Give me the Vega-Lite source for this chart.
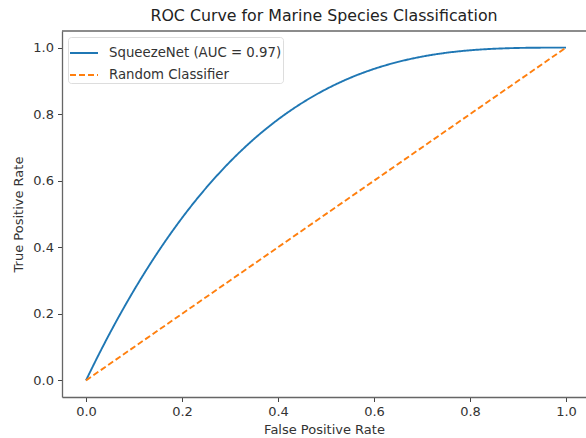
{
  "$schema": "https://vega.github.io/schema/vega-lite/v6.json",
  "autosize": "none",
  "width": 524,
  "height": 366,
  "padding": {"left": 62, "top": 31, "right": 0, "bottom": 41},
  "background": "white",
  "title": {"text": "ROC Curve for Marine Species Classification", "font": "DejaVu Sans", "fontSize": 15.8, "fontWeight": "normal", "color": "#222", "offset": 6, "anchor": "middle"},
  "config": {
    "view": {"stroke": null},
    "axis": {"grid": false, "labelFont": "DejaVu Sans", "titleFont": "DejaVu Sans", "labelFontSize": 13, "titleFontSize": 13, "titleFontWeight": "normal", "labelColor": "#333", "titleColor": "#333", "tickColor": "#444", "domainColor": "#666", "domainWidth": 1.3, "tickSize": 4.5, "labelPadding": 4}
  },
  "datasets": {
    "roc": [
      {"fpr": 0.0, "tpr": 0.0, "series": "SqueezeNet (AUC = 0.97)"},
      {"fpr": 0.025, "tpr": 0.0731, "series": "SqueezeNet (AUC = 0.97)"},
      {"fpr": 0.05, "tpr": 0.1426, "series": "SqueezeNet (AUC = 0.97)"},
      {"fpr": 0.1, "tpr": 0.271, "series": "SqueezeNet (AUC = 0.97)"},
      {"fpr": 0.15, "tpr": 0.3859, "series": "SqueezeNet (AUC = 0.97)"},
      {"fpr": 0.2, "tpr": 0.488, "series": "SqueezeNet (AUC = 0.97)"},
      {"fpr": 0.25, "tpr": 0.5781, "series": "SqueezeNet (AUC = 0.97)"},
      {"fpr": 0.3, "tpr": 0.657, "series": "SqueezeNet (AUC = 0.97)"},
      {"fpr": 0.35, "tpr": 0.7254, "series": "SqueezeNet (AUC = 0.97)"},
      {"fpr": 0.4, "tpr": 0.784, "series": "SqueezeNet (AUC = 0.97)"},
      {"fpr": 0.45, "tpr": 0.8336, "series": "SqueezeNet (AUC = 0.97)"},
      {"fpr": 0.5, "tpr": 0.875, "series": "SqueezeNet (AUC = 0.97)"},
      {"fpr": 0.55, "tpr": 0.9089, "series": "SqueezeNet (AUC = 0.97)"},
      {"fpr": 0.6, "tpr": 0.936, "series": "SqueezeNet (AUC = 0.97)"},
      {"fpr": 0.65, "tpr": 0.9571, "series": "SqueezeNet (AUC = 0.97)"},
      {"fpr": 0.7, "tpr": 0.973, "series": "SqueezeNet (AUC = 0.97)"},
      {"fpr": 0.75, "tpr": 0.9844, "series": "SqueezeNet (AUC = 0.97)"},
      {"fpr": 0.8, "tpr": 0.992, "series": "SqueezeNet (AUC = 0.97)"},
      {"fpr": 0.85, "tpr": 0.9966, "series": "SqueezeNet (AUC = 0.97)"},
      {"fpr": 0.9, "tpr": 0.999, "series": "SqueezeNet (AUC = 0.97)"},
      {"fpr": 0.95, "tpr": 0.9999, "series": "SqueezeNet (AUC = 0.97)"},
      {"fpr": 1.0, "tpr": 1.0, "series": "SqueezeNet (AUC = 0.97)"},
      {"fpr": 0.0, "tpr": 0.0, "series": "Random Classifier"},
      {"fpr": 1.0, "tpr": 1.0, "series": "Random Classifier"}
    ],
    "frame": [{"top": 1.05}]
  },
  "layer": [
    {
      "data": {"name": "frame"},
      "mark": {"type": "rule", "color": "#666", "strokeWidth": 1.3},
      "encoding": {"y": {"field": "top", "type": "quantitative", "scale": {"domain": [-0.05, 1.05], "nice": false, "zero": false}}}
    },
    {
      "data": {"name": "roc"},
      "mark": {"type": "line", "strokeWidth": 1.9, "interpolate": "monotone", "clip": false},
      "encoding": {
        "x": {"field": "fpr", "type": "quantitative", "title": "False Positive Rate",
              "scale": {"domain": [-0.05, 1.0417], "nice": false, "zero": false},
              "axis": {"values": [0, 0.2, 0.4, 0.6, 0.8, 1.0], "format": ".1f", "titlePadding": 5}},
        "y": {"field": "tpr", "type": "quantitative", "title": "True Positive Rate",
              "scale": {"domain": [-0.05, 1.05], "nice": false, "zero": false},
              "axis": {"values": [0, 0.2, 0.4, 0.6, 0.8, 1.0], "format": ".1f", "titlePadding": 7}},
        "color": {"field": "series", "type": "nominal",
                  "scale": {"domain": ["SqueezeNet (AUC = 0.97)", "Random Classifier"], "range": ["#1f77b4", "#ff7f0e"]},
                  "legend": {"title": null, "orient": "top-left", "offset": 6, "symbolType": "stroke", "symbolSize": 784, "symbolStrokeWidth": 2, "labelFont": "DejaVu Sans", "labelFontSize": 13.3, "labelLimit": 400, "labelColor": "#333", "fillColor": "white", "strokeColor": "#ddd", "padding": 1, "cornerRadius": 3, "rowPadding": -11, "labelOffset": 10}},
        "strokeDash": {"field": "series", "type": "nominal",
                       "scale": {"domain": ["SqueezeNet (AUC = 0.97)", "Random Classifier"], "range": [[1, 0], [6, 3]]},
                       "legend": null}
      }
    }
  ]
}
